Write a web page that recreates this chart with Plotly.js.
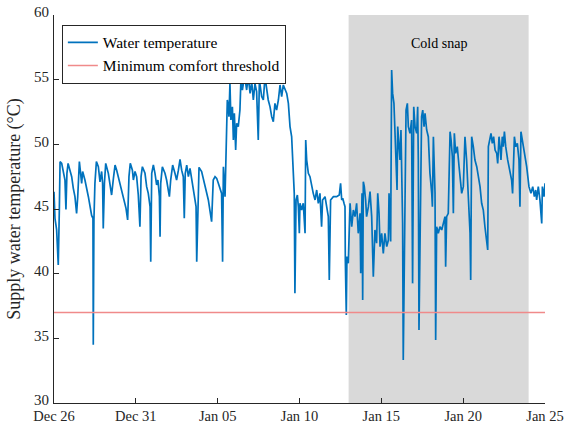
<!DOCTYPE html>
<html>
<head>
<meta charset="utf-8">
<script src="https://cdn.plot.ly/plotly-3.0.1.min.js"></script>
<style>html,body{margin:0;padding:0;background:#fff;}#chart{width:569px;height:425px;}</style>
</head>
<body>
<div id="chart"></div>
<script>
// Days since Dec 26 (start of record) and supply water temperature (°C)
const dayOffset = [
0.00,0.06,0.16,0.26,0.33,0.37,0.47,0.61,0.67,0.73,0.79,0.86,0.98,1.08,1.18,1.28,1.38,1.45,1.55,1.63,1.69,1.75,1.89,2.10,2.30,2.38,2.40,2.44,2.50,2.59,2.71,2.81,2.91,2.97,3.01,3.08,3.16,3.32,3.46,3.52,3.63,3.73,3.83,4.03,4.24,4.40,4.50,4.58,4.66,4.79,4.85,4.95,5.05,5.15,5.25,5.32,5.40,5.56,5.66,5.76,5.87,5.91,5.97,6.07,6.17,6.27,6.35,6.44,6.48,6.52,6.62,6.78,6.88,6.99,7.05,7.13,7.25,7.39,7.49,7.60,7.70,7.80,7.90,7.96,8.02,8.11,8.21,8.31,8.41,8.51,8.62,8.68,8.72,8.78,8.86,9.02,9.23,9.43,9.63,
9.73,9.84,9.94,10.04,10.14,10.24,10.30,10.35,10.45,10.51,10.59,10.65,10.69,10.75,10.81,10.90,10.96,11.02,11.10,11.16,11.26,11.36,11.42,11.51,11.57,11.67,11.77,11.87,11.98,12.08,12.18,12.28,12.38,12.48,12.55,12.69,12.79,12.89,12.99,13.09,13.20,13.30,13.40,13.50,13.60,13.71,13.81,13.91,14.01,14.11,14.22,14.32,14.42,14.52,14.62,14.68,14.72,14.79,14.87,14.93,14.99,15.03,15.13,15.23,15.34,15.38,15.44,15.54,15.64,15.74,15.84,15.95,16.05,16.15,16.25,16.35,16.41,16.56,16.66,16.76,16.82,16.90,17.07,17.27,17.43,17.51,17.58,17.64,17.72,17.78,17.80,17.86,17.90,17.98,18.09,18.19,18.29,18.39,18.49,18.59,18.70,18.74,18.82,18.86,18.90,18.96,19.04,19.10,19.21,19.31,19.41,19.51,19.61,
19.71,19.78,19.86,19.92,20.02,20.12,20.22,20.33,20.43,20.47,20.57,20.63,20.69,20.77,20.83,20.90,20.96,21.00,21.08,21.14,21.20,21.30,21.34,21.41,21.45,21.51,21.59,21.65,21.75,21.85,21.91,21.98,22.06,22.16,22.22,22.26,22.30,22.36,22.46,22.53,22.61,22.67,22.77,22.87,22.97,23.08,23.12,23.18,23.24,23.28,23.32,23.38,23.48,23.58,23.69,23.79,23.89,23.93,23.99,24.09,24.20,24.26,24.34,24.40,24.46,24.54,24.64,24.75,24.81,24.91,25.01,25.11,25.21,25.32,25.42,25.46,25.52,25.62,25.72,25.83,25.93,26.03,26.13,26.23,26.33,26.50,26.54,26.64,26.70,26.78,26.86,26.95,27.05,27.11,27.19,27.25,27.31,27.39,27.45,27.52,27.60,27.72,27.86,27.96,28.02,28.13,28.21,28.31,28.41,28.47,28.53,28.64,28.74,28.88,29.02,29.14,29.25,29.35,29.43,29.49,29.59,29.69,29.80,29.84,29.94,30.00
];
const waterTemp = [
46.34,44.28,43.40,40.67,45.20,48.66,48.53,47.76,47.24,44.97,47.76,48.53,48.00,47.50,46.60,45.95,44.66,45.95,48.66,47.76,46.98,47.90,47.24,45.95,44.50,44.28,34.50,44.15,46.98,48.66,48.27,47.10,47.90,46.98,43.50,46.98,48.53,47.76,46.73,46.08,47.37,48.40,48.00,46.98,45.95,45.05,44.15,47.50,48.53,48.00,47.24,47.90,47.50,46.08,43.63,47.50,48.27,47.76,46.73,46.21,45.18,40.93,47.76,48.40,47.76,46.86,47.24,45.95,42.86,46.98,48.27,47.76,47.24,46.47,45.95,47.24,48.40,47.76,47.24,48.00,48.84,48.00,47.50,44.28,47.76,48.40,47.50,48.14,47.24,46.47,45.70,45.18,40.93,44.92,48.22,47.90,46.86,45.70,44.02,
47.24,47.50,47.37,46.99,46.60,46.20,40.93,48.27,45.95,49.69,53.43,52.90,52.14,54.70,51.88,52.90,50.34,52.40,49.56,51.62,51.37,52.65,54.97,54.20,54.70,55.10,54.20,55.23,53.94,54.84,53.43,54.70,54.07,50.34,54.97,53.69,53.43,55.23,54.20,53.43,52.90,52.14,51.75,53.17,52.65,53.43,54.59,53.69,54.59,54.20,53.94,53.17,51.37,50.60,48.02,46.21,38.48,45.70,46.08,45.18,43.12,45.44,44.92,45.44,43.12,50.34,48.79,47.76,47.50,46.73,46.21,45.70,46.47,45.44,46.21,43.63,45.70,45.95,45.18,44.41,39.51,45.70,45.95,45.95,46.08,46.99,45.70,45.83,45.44,45.18,41.06,36.81,41.32,40.80,45.44,43.63,44.92,44.41,45.44,43.12,44.67,40.03,46.21,37.97,47.11,46.73,45.70,44.41,45.18,46.34,44.41,39.77,43.38,
42.35,46.21,44.67,42.09,43.12,41.57,43.12,42.09,42.60,46.21,42.48,55.75,53.94,53.17,51.37,48.79,46.47,51.37,49.30,48.79,51.11,43.89,33.33,43.12,42.60,52.65,53.17,51.37,50.85,51.88,39.25,52.91,51.37,50.85,52.91,48.79,35.65,42.09,52.14,52.65,51.37,52.40,51.11,50.59,47.76,46.21,45.18,50.59,48.79,46.21,34.87,43.63,43.12,43.63,43.38,43.89,44.41,40.54,44.41,44.67,50.98,50.34,49.05,44.67,50.85,49.30,49.82,48.27,47.50,46.21,46.73,50.59,48.79,46.21,43.12,39.51,50.59,49.82,48.79,48.27,47.50,46.73,45.44,44.92,43.63,41.83,49.82,50.34,50.85,50.08,50.59,49.56,49.30,48.53,50.59,49.82,48.79,50.59,49.82,50.98,49.82,48.79,48.02,47.24,46.21,50.59,49.82,50.08,48.79,45.18,50.98,50.08,49.30,48.27,46.73,46.21,46.73,45.95,46.47,45.70,46.73,45.70,43.89,46.73,45.95,46.99
];
const thresholdValue = 37;
const coldSnapDays = [18, 29];     // Jan 13 -> Jan 24
const axisDays = [0, 30];          // Dec 26 -> Jan 25
const yTicks = [30, 35, 40, 45, 50, 55, 60];
const seriesNames = ['Water temperature', 'Minimum comfort threshold'];
const snapLabel = 'Cold snap';
const yLabel = 'Supply water temperature (°C)';

const base = Date.UTC(2022, 11, 26);
const DAY = 86400000;
const toDate = d => base + d * DAY;

const font = '"Liberation Serif", "DejaVu Serif", serif';
const ink = '#262626';

const traces = [
  {
    x: dayOffset.map(toDate), y: waterTemp, type: 'scatter', mode: 'lines',
    name: seriesNames[0], line: {color: '#0072BD', width: 1.7}
  },
  {
    x: axisDays.map(toDate), y: axisDays.map(() => thresholdValue), type: 'scatter', mode: 'lines',
    name: seriesNames[1], line: {color: '#F08A8A', width: 1.5}
  }
];

const layout = {
  width: 569, height: 425,
  margin: {l: 54, r: 24, t: 15, b: 22, pad: 0},
  paper_bgcolor: '#fff', plot_bgcolor: '#fff',
  font: {family: font, size: 15, color: ink},
  showlegend: true,
  legend: {
    x: 0.016, y: 0.975, xanchor: 'left', yanchor: 'top',
    bgcolor: '#fff', bordercolor: ink, borderwidth: 1,
    font: {family: font, size: 15.5, color: '#000'},
    tracegroupgap: 0, itemwidth: 30
  },
  xaxis: {
    type: 'date', range: axisDays.map(toDate),
    tick0: toDate(0), dtick: 5 * DAY, tickformat: '%b %d',
    ticks: 'inside', ticklen: 5, tickcolor: ink, tickwidth: 1,
    showline: true, linecolor: ink, linewidth: 1, mirror: false,
    showgrid: false, zeroline: false, ticklabelstandoff: 0,
    tickfont: {family: font, size: 14.5, color: ink}
  },
  yaxis: {
    range: [yTicks[0], yTicks[yTicks.length - 1]],
    tickvals: yTicks,
    ticks: 'inside', ticklen: 5, tickcolor: ink, tickwidth: 1,
    showline: true, linecolor: ink, linewidth: 1, mirror: false,
    showgrid: false, zeroline: false, ticklabelstandoff: 1, ticklabelshift: -3,
    tickfont: {family: font, size: 15, color: ink},
    title: {text: yLabel, font: {family: font, size: 18, color: ink}, standoff: 8}
  },
  shapes: [{
    type: 'rect', xref: 'x', yref: 'paper', layer: 'below',
    x0: toDate(coldSnapDays[0]), x1: toDate(coldSnapDays[1]), y0: 0, y1: 1,
    fillcolor: '#D9D9D9', line: {width: 0}
  }],
  annotations: [{
    x: toDate((coldSnapDays[0] + coldSnapDays[1]) / 2), y: 57.8, xref: 'x', yref: 'y',
    text: snapLabel, showarrow: false,
    font: {family: font, size: 14, color: '#000'}
  }]
};

Plotly.newPlot('chart', traces, layout, {staticPlot: true, displayModeBar: false});
</script>
</body>
</html>
